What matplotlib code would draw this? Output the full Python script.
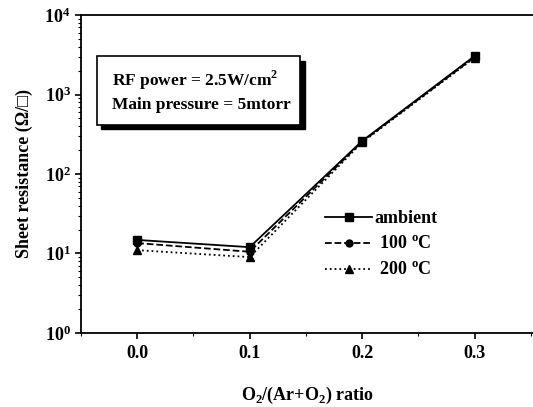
import matplotlib
matplotlib.use("Agg")
import matplotlib.pyplot as plt
from matplotlib.patches import Rectangle
from matplotlib.ticker import LogLocator, FixedLocator, NullFormatter

plt.rcParams['font.family'] = ['Liberation Serif', 'DejaVu Serif', 'DejaVu Sans']
plt.rcParams['font.weight'] = 'bold'
plt.rcParams['mathtext.fontset'] = 'custom'
plt.rcParams['mathtext.rm'] = 'Liberation Serif:bold'
plt.rcParams['mathtext.bf'] = 'Liberation Serif:bold'

ratio = [0.0, 0.1, 0.2, 0.3]
ambient = [14.8, 12.0, 260, 3050]
t100 = [13.5, 10.5, 255, 2950]
t200 = [11.0, 9.0, 250, 2900]
labels = ['ambient', ' 100 $^{\\rm o}$C', ' 200 $^{\\rm o}$C']
xticks = [0.0, 0.1, 0.2, 0.3]
xticklabels = ['0.0', '0.1', '0.2', '0.3']

fig = plt.figure(figsize=(5.33, 4.07), dpi=100)
ax = fig.add_axes([0.152, 0.182, 0.848, 0.781])

ax.plot(ratio, ambient, '-s', color='black', lw=1.3, ms=5.5, label=labels[0])
ax.plot(ratio, t100, '--o', color='black', lw=1.3, ms=5, label=labels[1])
ax.plot(ratio, t200, ':^', color='black', lw=1.3, ms=5.5, label=labels[2])

ax.set_yscale('log')
ax.set_ylim(1, 1e4)
ax.set_xlim(-0.05, 0.352)
ax.set_xticks(xticks)
ax.set_xticklabels(xticklabels)
ax.xaxis.set_minor_locator(FixedLocator([-0.05, 0.05, 0.15, 0.25, 0.35]))
ax.yaxis.set_major_locator(LogLocator(base=10, numticks=10))
ax.yaxis.set_minor_locator(LogLocator(base=10, subs=range(2, 10), numticks=50))
ax.yaxis.set_minor_formatter(NullFormatter())
ax.spines['right'].set_visible(False)
for s in ['left', 'bottom', 'top']:
    ax.spines[s].set_linewidth(1.3)
ax.tick_params(which='major', direction='out', length=4, width=1.2, labelsize=13)
ax.tick_params(which='minor', direction='out', length=2.5, width=0.8)
ax.tick_params(axis='x', pad=5)

ax.set_xlabel('O$_2$/(Ar+O$_2$) ratio', fontsize=13, fontweight='bold', labelpad=16)
ax.set_ylabel('Sheet resistance (\u03a9/\u25a1)', fontsize=13, fontweight='bold', labelpad=8)

# annotation box with shadow
x0, x1, y0, y1 = 0.035, 0.485, 0.654, 0.871
ax.add_patch(Rectangle((x0 + 0.010, y0 - 0.014), x1 - x0, y1 - y0, transform=ax.transAxes,
                       facecolor='black', edgecolor='black', zorder=4))
ax.add_patch(Rectangle((x0, y0), x1 - x0, y1 - y0, transform=ax.transAxes,
                       facecolor='white', edgecolor='black', lw=1.2, zorder=5))
ax.text(0.069, 0.795, 'RF power = 2.5W/cm$^2$', transform=ax.transAxes, fontsize=12.5,
        fontweight='bold', va='center', zorder=6)
ax.text(0.069, 0.718, 'Main pressure = 5mtorr', transform=ax.transAxes, fontsize=12.5,
        fontweight='bold', va='center', zorder=6)

ax.legend(loc='upper left', bbox_to_anchor=(0.524, 0.41), frameon=False, fontsize=13,
          handlelength=2.6, handletextpad=0.15, labelspacing=0.5, borderaxespad=0)

fig.savefig('out.png', dpi=100)
